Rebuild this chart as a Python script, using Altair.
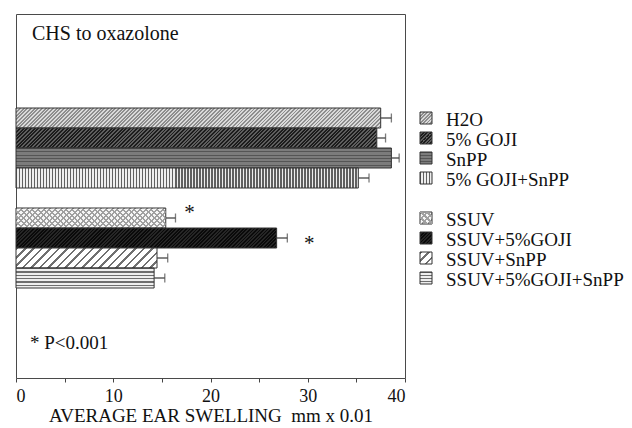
import altair as alt
import pandas as pd

# Contact hypersensitivity (CHS) to oxazolone: mean ear swelling per treatment group
groups = ["H2O", "5% GOJI", "SnPP", "5% GOJI+SnPP",
          "SSUV", "SSUV+5%GOJI", "SSUV+SnPP", "SSUV+5%GOJI+SnPP"]
swelling = [37.5, 37.1, 38.6, 35.2, 15.4, 26.8, 14.5, 14.2]
sem = [1.1, 0.9, 0.8, 1.1, 1.0, 1.1, 1.1, 1.1]
x_ticks = [0, 5, 10, 15, 20, 25, 30, 35, 40]
x_max = 40

panel_title = "CHS to oxazolone"
footnote = "* P<0.001"
x_title = "AVERAGE EAR SWELLING\u00a0 mm x 0.01"

SERIF = "Liberation Serif"
INK = "#111111"
EDGE = "#333333"

GAP = " "  # empty row separating the unirradiated and SSUV groups
rows = groups[:4] + [GAP] + groups[4:]

PLOT_W, PLOT_H = 389, 364
ROW = 20.0          # band height in pixels
ROWS_TOP = 94.0     # first band's top edge inside the plot

df = pd.DataFrame({"group": groups, "value": swelling, "sem": sem})
df["upper"] = df["value"] + df["sem"]

# Hatch styles drawn as hard-stop linear gradients
patterns = {
    "H2O": dict(dir="/", fg="#8e8e8e", bg="#dadada", period=2.6, duty=0.5),
    "5% GOJI": dict(dir="/", fg="#1c1c1c", bg="#5e5e5e", period=2.6, duty=0.5),
    "SnPP": dict(dir="h", fg="#555555", bg="#7c7c7c", period=3.4, duty=0.35),
    "5% GOJI+SnPP": dict(dir="v", fg="#606060", bg="#eeeeee", period=3.0, duty=0.45),
    "SSUV": dict(dir="/", fg="#a0a0a0", bg="#f6f6f6", period=4.0, duty=0.35, cross=True),
    "SSUV+5%GOJI": dict(dir="/", fg="#0a0a0a", bg="#262626", period=2.5, duty=0.5),
    "SSUV+SnPP": dict(dir="/", fg="#707070", bg="#ffffff", period=6.0, duty=0.3),
    "SSUV+5%GOJI+SnPP": dict(dir="h", fg="#6e6e6e", bg="#eeeeee", period=3.3, duty=0.4),
}


def stripe_gradient(direction, fg, bg, period, duty, w, h):
    """Linear gradient with repeating hard stops over a w x h box."""
    if direction == "h":
        x1, y1, x2, y2 = 0, 0, 0, 1
        n = h / period
    elif direction == "v":
        x1, y1, x2, y2 = 0, 0, 1, 0
        n = w / period
    else:
        k = (w + h) / (w + h * h / w)
        if direction == "/":
            x1, y1, x2, y2 = 0, 0, k, k * h / w
        else:
            x1, y1, x2, y2 = 0, 1, k, 1 - k * h / w
        n = (w + h) / (period * 2 ** 0.5)
    n = max(1, int(round(n)))
    stops = []
    for i in range(n):
        a, b, c = i / n, (i + duty) / n, (i + 1) / n
        stops += [
            {"offset": round(a, 5), "color": fg},
            {"offset": round(b, 5), "color": fg},
            {"offset": round(b, 5), "color": bg},
            {"offset": round(min(c, 1.0), 5), "color": bg},
        ]
    return {"gradient": "linear", "x1": x1, "y1": y1, "x2": x2, "y2": y2, "stops": stops}


def fills(group, w, h):
    p = patterns[group]
    out = [stripe_gradient(p["dir"], p["fg"], p["bg"], p["period"], p["duty"], w, h)]
    if p.get("cross"):
        out.append(stripe_gradient("\\", p["fg"], "rgba(255,255,255,0)",
                                   p["period"], p["duty"], w, h))
    return out


x_scale = alt.Scale(domain=[0, x_max], nice=False, zero=True)
y_scale = alt.Scale(domain=rows, range=[ROWS_TOP, ROWS_TOP + ROW * len(rows)],
                    paddingInner=0, paddingOuter=0)
x_axis = alt.Axis(values=x_ticks, labelExpr="datum.value % 10 === 0 ? datum.label : ''",
                  tickSize=4, labelPadding=5, titlePadding=1, title=x_title)
Y = alt.Y("group:N", scale=y_scale, axis=None)

base = alt.Chart(df)
layers = []
for g, v in zip(groups, swelling):
    w = v * PLOT_W / x_max
    for j, f in enumerate(fills(g, w, ROW)):
        layers.append(
            base.transform_filter(alt.datum.group == g)
            .mark_bar(fill=f, stroke=EDGE if j == 0 else "transparent",
                      strokeWidth=1 if j == 0 else 0)
            .encode(x=alt.X("value:Q", scale=x_scale, axis=x_axis), y=Y)
        )

errors = base.mark_rule(color="#444444", strokeWidth=1.3).encode(
    x=alt.X("value:Q", scale=x_scale, axis=x_axis), x2="upper:Q", y=Y)
caps = base.mark_tick(color="#444444", thickness=1.3, size=9).encode(
    x=alt.X("upper:Q", scale=x_scale, axis=x_axis), y=Y)

star_a = base.transform_filter(alt.datum.group == "SSUV").mark_text(
    text="*", fontSize=21, color=INK, dx=14, dy=1, baseline="alphabetic").encode(
    x=alt.X("upper:Q", scale=x_scale, axis=x_axis), y=Y)
star_b = base.transform_filter(alt.datum.group == "SSUV+5%GOJI").mark_text(
    text="*", fontSize=21, color=INK, dx=22, dy=12, baseline="alphabetic").encode(
    x=alt.X("upper:Q", scale=x_scale, axis=x_axis), y=Y)

title_text = alt.Chart(pd.DataFrame({"label": [panel_title]})).mark_text(
    align="left", baseline="alphabetic", fontSize=20, color=INK).encode(
    x=alt.value(16), y=alt.value(26), text="label:N")
foot_text = alt.Chart(pd.DataFrame({"label": [footnote]})).mark_text(
    align="left", baseline="alphabetic", fontSize=19, color=INK).encode(
    x=alt.value(14), y=alt.value(335), text="label:N")

plot = alt.layer(*layers, errors, caps, star_a, star_b, title_text, foot_text).properties(
    width=PLOT_W, height=PLOT_H)

# Legend panel: hatched swatches and group names on the same row layout
LEG = 12
legend_df = pd.DataFrame({"group": groups})
leg_layers = []
for g in groups:
    for j, f in enumerate(fills(g, LEG, LEG)):
        leg_layers.append(
            alt.Chart(legend_df).transform_filter(alt.datum.group == g)
            .mark_square(size=LEG * LEG, opacity=1, fill=f,
                         stroke=EDGE if j == 0 else "transparent",
                         strokeWidth=1 if j == 0 else 0)
            .encode(x=alt.value(10), y=Y)
        )
leg_text = alt.Chart(legend_df).mark_text(
    align="left", baseline="middle", fontSize=19, color=INK, dy=1.5).encode(
    x=alt.value(30), y=Y, text="group:N")
legend = alt.layer(*leg_layers, leg_text).properties(
    width=205, height=PLOT_H, view=alt.ViewBackground(stroke="transparent"))

chart = alt.hconcat(plot, legend, spacing=9).properties(
    padding={"left": 15, "top": 13, "right": 2, "bottom": 0}
).configure(font=SERIF).configure_view(
    stroke="#4a4a4a", strokeWidth=1
).configure_axis(
    labelFont=SERIF, labelFontSize=18, labelColor=INK,
    titleFont=SERIF, titleFontSize=19, titleFontWeight="normal", titleColor=INK,
    tickColor="#444444", domain=False, grid=False
)

chart.save("out.html", embed_options={"renderer": "svg", "actions": False})
